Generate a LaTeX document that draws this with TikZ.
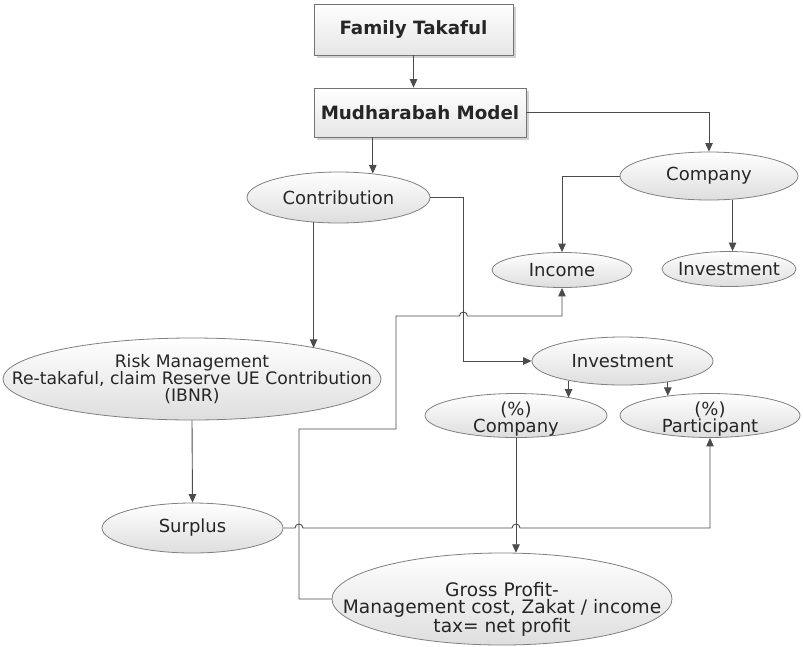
\documentclass[tikz,border=0pt]{standalone}
\usepackage{fontspec}
\setmainfont{DejaVu Sans}
\usetikzlibrary{arrows.meta,shapes.geometric,shadows,calc}
\begin{document}
\begin{tikzpicture}[x=1pt,y=-1pt,
  every node/.style={text=black!85},
  txt/.style={font=\fontsize{18}{17}\selectfont, align=center, inner sep=0pt, text=black!85},
  titlebox/.style={rectangle, draw=black!55, line width=0.8pt,
    top color=white, bottom color=black!10,
    drop shadow={shadow xshift=2.5pt, shadow yshift=-2.5pt, opacity=0.35},
    font=\fontsize{18.3}{17}\selectfont\bfseries, inner sep=0pt},
  oval/.style={ellipse, draw=black!50, line width=0.8pt,
    top color=white, bottom color=black!13, inner sep=0pt},
  conn/.style={draw=black!70, line width=0.9pt},
  arr/.style={conn, -{Triangle[length=8.5pt,width=7.5pt]}}
]
\useasboundingbox (0,0) rectangle (803,646);
\fill[white] (0,0) rectangle (803,646);

% boxes
\node[titlebox, minimum width=199, minimum height=51] (fam) at (413.5,29.5) {Family Takaful};
\node[titlebox, minimum width=212, minimum height=49] (mud) at (420,112.5) {Mudharabah Model};

% ellipses
\node[oval, minimum width=183, minimum height=51, label={[txt]center:Contribution}] (contrib) at (338.5,197.5) {};
\node[oval, minimum width=178, minimum height=48, label={[txt]center:Company}] (company) at (709,176) {};
\node[oval, minimum width=140, minimum height=35, label={[txt]center:Income}] (income) at (562,270) {};
\node[oval, minimum width=134, minimum height=35, label={[txt]center:Investment}] (invtop) at (729,269) {};
\node[oval, minimum width=378, minimum height=82,
  label={[txt, font=\fontsize{17.2}{16.5}\selectfont]center:Risk Management\\Re-takaful, claim Reserve UE Contribution\\(IBNR)}] (risk) at (192,379) {};
\node[oval, minimum width=181, minimum height=48, label={[txt]center:Investment}] (inv) at (622.5,361) {};
\node[oval, minimum width=182, minimum height=44, label={[txt, yshift=-4pt]center:(\%)\\Company}] (pcomp) at (516,415.5) {};
\node[oval, minimum width=180, minimum height=44, label={[txt, yshift=-4pt]center:(\%)\\Participant}] (part) at (710,415.5) {};
\node[oval, minimum width=181, minimum height=50, label={[txt]center:Surplus}] (surplus) at (192.5,528) {};
\node[oval, minimum width=340, minimum height=92,
  label={[txt, font=\fontsize{18.6}{17}\selectfont, yshift=-10pt]center:Gross Profit-\\Management cost, Zakat / income\\tax= net profit}] (gross) at (502,599) {};

% routing points
\coordinate (d1) at ($(contrib.east)+(33,0)$);
\coordinate (e1) at (299,429);
\coordinate (e2) at (396,316);

% connectors
\draw[arr] (fam.south) -- (fam.south |- mud.north);
\draw[arr] (mud.east) -| (company.north);
\draw[arr] (mud.south -| contrib.35) -- (contrib.35);
\draw[arr] (company.west) -| (income.north);
\draw[arr] (company.315) -- (company.315 |- invtop.north);
\draw[arr] (contrib.east) -- (d1) |- (inv.west);
\draw[arr] (contrib.225) -- (contrib.225 |- risk.14);
\draw[arr] (risk.south) -- (surplus.north);
\draw[arr] (inv.200) -- (inv.200 |- pcomp.18);
\draw[arr] (inv.335) -- (inv.335 |- part.156);
\draw[arr] (pcomp.south) -- (pcomp.south |- gross.73);
\draw[arr] (gross.west) -| (e1) -| (e2)
  -- ($(d1 |- e2)+(-4,0)$) arc[start angle=180, end angle=0, radius=4pt]
  -- (income.south |- e2) -- (income.south);
\draw[arr] (surplus.east)
  -- ($(e1 |- surplus.east)+(-4,0)$) arc[start angle=180, end angle=0, radius=4pt]
  -- ($(pcomp.south |- surplus.east)+(-4,0)$) arc[start angle=180, end angle=0, radius=4pt]
  -- (part.south |- surplus.east) -- (part.south);
\end{tikzpicture}
\end{document}
